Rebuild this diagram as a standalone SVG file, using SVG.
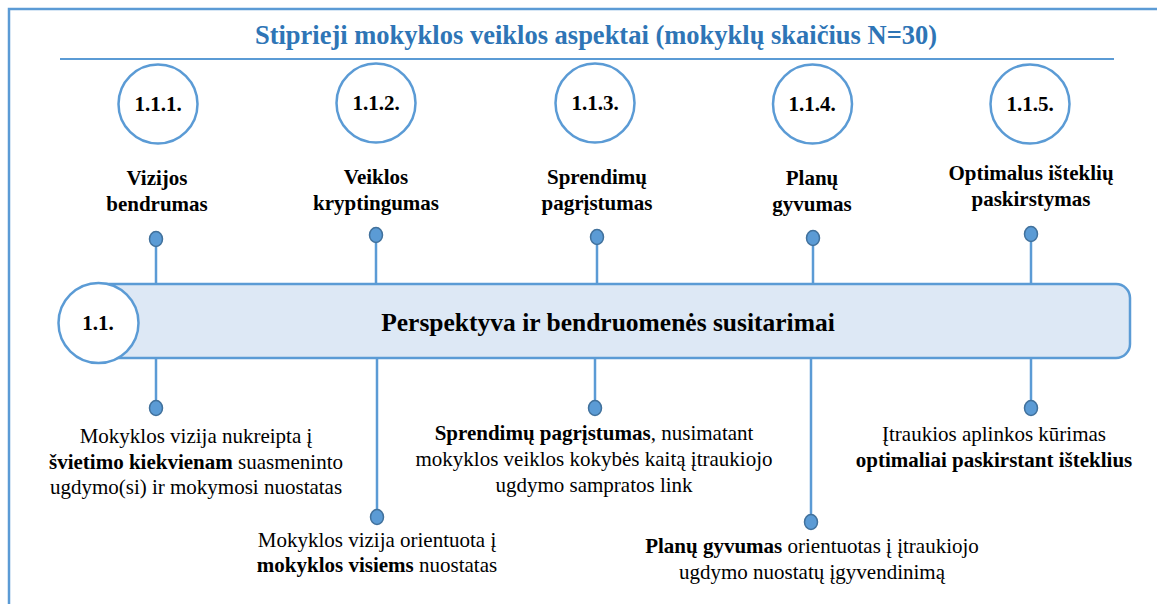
<svg xmlns="http://www.w3.org/2000/svg" width="1157" height="604" viewBox="0 0 1157 604">
<style>
.frame{fill:none;stroke:#5b9bd5;stroke-width:2.5}
.ln{stroke:#5b9bd5;stroke-width:2.5;fill:none}
.dot{fill:#5b9bd5;stroke:#41719c;stroke-width:1.5}
.circ{fill:#fff;stroke:#5b9bd5;stroke-width:2.5}
.t{font-family:Liberation Serif, Times New Roman, serif;fill:#000;text-anchor:middle}
.b{font-weight:bold}
.num{font-size:21px;font-weight:bold}
.lab{font-size:21px;font-weight:bold}
.body{font-size:21px}
</style>
<rect x="0" y="0" width="1157" height="604" fill="#fff"/>
<path class="frame" d="M9,604 V9 H1157"/>
<text x="596" y="44" class="t b" font-family="Liberation Serif" style="font-size:26.5px;fill:#2e75b6">Stiprieji mokyklos veiklos aspektai (mokyklų skaičius N=30)</text>
<line x1="60" y1="59" x2="1114" y2="59" stroke="#5b9bd5" stroke-width="2"/>

<g id="connectors">
<line class="ln" x1="156" y1="240" x2="156" y2="284"/>
<line class="ln" x1="376" y1="237" x2="376" y2="284"/>
<line class="ln" x1="597" y1="239" x2="597" y2="284"/>
<line class="ln" x1="813" y1="239" x2="813" y2="284"/>
<line class="ln" x1="1031" y1="235" x2="1031" y2="284"/>
<line class="ln" x1="156" y1="358" x2="156" y2="406"/>
<line class="ln" x1="377" y1="358" x2="377" y2="515"/>
<line class="ln" x1="595" y1="358" x2="595" y2="406"/>
<line class="ln" x1="811" y1="358" x2="811" y2="520"/>
<line class="ln" x1="1031" y1="358" x2="1031" y2="406"/>
<ellipse class="dot" cx="156" cy="239" rx="6.5" ry="7.5"/>
<ellipse class="dot" cx="376" cy="235" rx="6.5" ry="7.5"/>
<ellipse class="dot" cx="597" cy="237" rx="6.5" ry="7.5"/>
<ellipse class="dot" cx="813" cy="238" rx="6.5" ry="7.5"/>
<ellipse class="dot" cx="1031" cy="234" rx="6.5" ry="7.5"/>
<ellipse class="dot" cx="156" cy="408" rx="6.5" ry="7.5"/>
<ellipse class="dot" cx="377" cy="517" rx="6.5" ry="7.5"/>
<ellipse class="dot" cx="595" cy="408" rx="6.5" ry="7.5"/>
<ellipse class="dot" cx="811" cy="522" rx="6.5" ry="7.5"/>
<ellipse class="dot" cx="1031" cy="408" rx="6.5" ry="7.5"/>
</g>

<g id="main">
<path d="M97,284 H1116 A14,14 0 0 1 1130,298 V344 A14,14 0 0 1 1116,358 H97 Z" fill="#dde8f5" stroke="#5b9bd5" stroke-width="2.5"/>
<circle class="circ" cx="98.5" cy="323" r="40"/>
<text x="98" y="330" class="t num" font-family="Liberation Serif">1.1.</text>
<text x="608" y="331" class="t b" font-family="Liberation Serif" style="font-size:25.5px">Perspektyva ir bendruomenės susitarimai</text>
</g>

<g id="n111" font-family="Liberation Serif">
<circle class="circ" cx="158" cy="104" r="39.5"/>
<text x="158" y="111" class="t num">1.1.1.</text>
<text class="t lab" x="157"><tspan x="157" y="185">Vizijos</tspan><tspan x="157" y="211">bendrumas</tspan></text>
<text class="t body" x="196"><tspan x="196" y="443">Mokyklos vizija nukreipta į</tspan><tspan x="196" y="469"><tspan class="b">švietimo kiekvienam</tspan> suasmeninto</tspan><tspan x="196" y="494">ugdymo(si) ir mokymosi nuostatas</tspan></text>
</g>

<g id="n112" font-family="Liberation Serif">
<circle class="circ" cx="376" cy="103" r="39.5"/>
<text x="376" y="110" class="t num">1.1.2.</text>
<text class="t lab" x="376"><tspan x="376" y="184">Veiklos</tspan><tspan x="376" y="210">kryptingumas</tspan></text>
<text class="t body" x="377"><tspan x="377" y="547">Mokyklos vizija orientuota į</tspan><tspan x="377" y="572"><tspan class="b">mokyklos visiems</tspan> nuostatas</tspan></text>
</g>

<g id="n113" font-family="Liberation Serif">
<circle class="circ" cx="595" cy="103" r="39.5"/>
<text x="595" y="110" class="t num">1.1.3.</text>
<text class="t lab" x="597"><tspan x="597" y="184">Sprendimų</tspan><tspan x="597" y="210">pagrįstumas</tspan></text>
<text class="t body" x="594"><tspan x="594" y="440"><tspan class="b">Sprendimų pagrįstumas</tspan>, nusimatant</tspan><tspan x="594" y="466">mokyklos veiklos kokybės kaitą įtraukiojo</tspan><tspan x="594" y="492">ugdymo sampratos link</tspan></text>
</g>

<g id="n114" font-family="Liberation Serif">
<circle class="circ" cx="812.5" cy="104" r="39.5"/>
<text x="812" y="111" class="t num">1.1.4.</text>
<text class="t lab" x="812"><tspan x="812" y="185">Planų</tspan><tspan x="812" y="211">gyvumas</tspan></text>
<text class="t body" x="812"><tspan x="812" y="553"><tspan class="b">Planų gyvumas</tspan> orientuotas į įtraukiojo</tspan><tspan x="812" y="579">ugdymo nuostatų įgyvendinimą</tspan></text>
</g>

<g id="n115" font-family="Liberation Serif">
<circle class="circ" cx="1030" cy="104" r="39.5"/>
<text x="1030" y="111" class="t num">1.1.5.</text>
<text class="t lab" x="1031"><tspan x="1031" y="180">Optimalus išteklių</tspan><tspan x="1031" y="206">paskirstymas</tspan></text>
<text class="t body" x="994"><tspan x="994" y="441">Įtraukios aplinkos kūrimas</tspan><tspan x="994" y="467" class="b">optimaliai paskirstant išteklius</tspan></text>
</g>
</svg>
